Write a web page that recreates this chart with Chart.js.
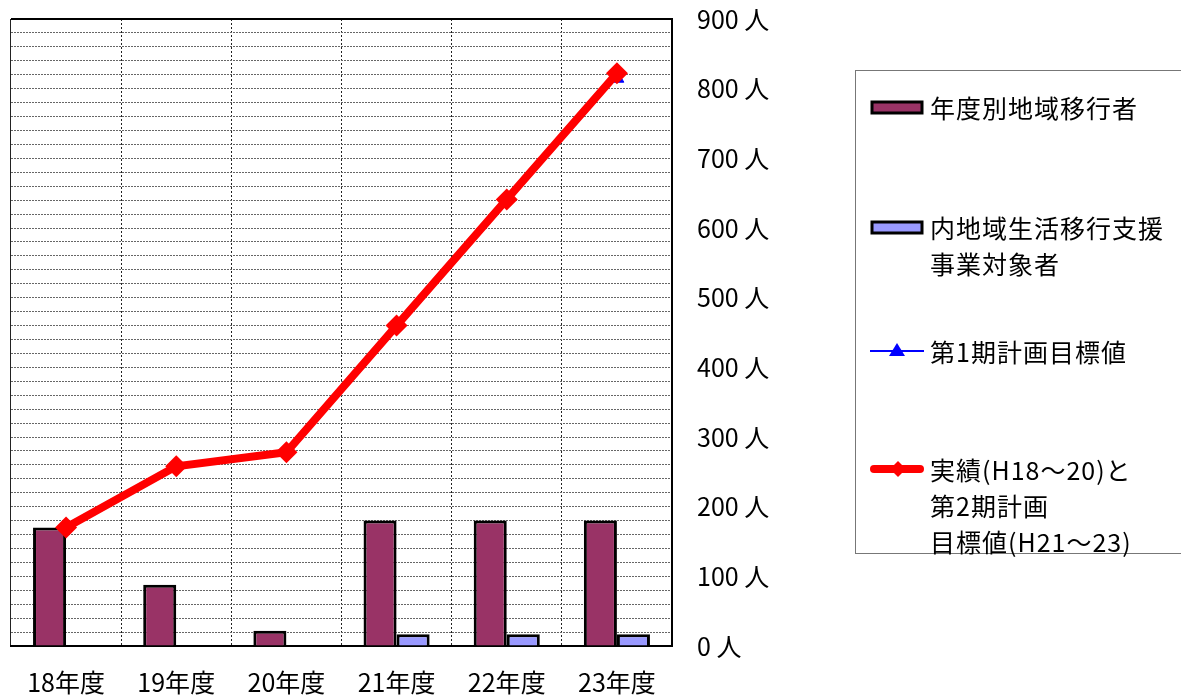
<!DOCTYPE html>
<html>
<head>
<meta charset="utf-8">
<script src="https://cdn.jsdelivr.net/npm/chart.js@4.4.0/dist/chart.umd.min.js"></script>
<style>
  html, body { margin:0; padding:0; background:#fff; }
  #wrap { position:relative; width:1181px; height:699px; }
  #legend { position:absolute; left:855px; top:70px; width:340px; height:484px;
    border:1px solid #777; box-sizing:border-box; font-family:"Noto Sans CJK JP", sans-serif;
    font-size:25px; color:#000; letter-spacing:1px; }
  .item { position:absolute; left:14px; display:flex; align-items:flex-start; }
  .item svg { flex:none; margin-right:4px; }
  .item div { line-height:36px; }
</style>
</head>
<body>
<div id="wrap">
  <canvas id="c" width="1181" height="699"></canvas>
  <div id="legend">
    <div class="item" style="top:18px"><svg width="56" height="36"><rect x="2" y="13" width="50" height="11" fill="#993366" stroke="#000" stroke-width="3"/></svg><div>年度別地域移行者</div></div>
    <div class="item" style="top:138px"><svg width="56" height="36"><rect x="2" y="13" width="50" height="11" fill="#9999FF" stroke="#000" stroke-width="3"/></svg><div>内地域生活移行支援<br>事業対象者</div></div>
    <div class="item" style="top:262px"><svg width="56" height="36"><line x1="0" y1="18" x2="54" y2="18" stroke="#0000FF" stroke-width="2"/><polygon points="27,10 35,23 19,23" fill="#0000FF"/></svg><div>第1期計画目標値</div></div>
    <div class="item" style="top:380px"><svg width="56" height="36"><line x1="4" y1="18" x2="50" y2="18" stroke="#FF0000" stroke-width="8" stroke-linecap="round"/><polygon points="28,10 36,18 28,26 20,18" fill="#FF0000"/></svg><div>実績(H18～20)と<br>第2期計画<br>目標値(H21～23)</div></div>
  </div>
</div>
<script>
const categories = ['18年度', '19年度', '20年度', '21年度', '22年度', '23年度'];
const transitionByYear = [170, 88, 22, 180, 180, 180];
const supportTargets = [null, null, null, 17, 17, 17];
const firstPlanTarget = [null, null, null, null, null, 815];
const actualAndSecondPlan = [170, 258, 278, 460, 641, 822];
const yTickStep = 20;
const yMax = 900;

const font = { family: '"Noto Sans CJK JP", sans-serif', size: 25 };

new Chart(document.getElementById('c'), {
  data: {
    labels: categories,
    datasets: [
      { type: 'line', label: '実績(H18～20)と第2期計画目標値(H21～23)', data: actualAndSecondPlan,
        borderColor: '#FF0000', backgroundColor: '#FF0000', borderWidth: 8,
        pointStyle: 'rectRot', pointRadius: 11, pointBorderWidth: 0, tension: 0, order: 0 },
      { type: 'line', label: '第1期計画目標値', data: firstPlanTarget,
        borderColor: '#0000FF', backgroundColor: '#0000FF', borderWidth: 1,
        pointStyle: 'triangle', pointRadius: 8, order: 1 },
      { type: 'bar', label: '年度別地域移行者', data: transitionByYear,
        backgroundColor: '#993366', borderColor: '#000', borderWidth: 3,
        categoryPercentage: 0.6, barPercentage: 1, order: 2 },
      { type: 'bar', label: '内地域生活移行支援事業対象者', data: supportTargets,
        backgroundColor: '#9999FF', borderColor: '#000', borderWidth: 3,
        categoryPercentage: 0.6, barPercentage: 1, order: 3 }
    ]
  },
  options: {
    responsive: false,
    animation: false,
    layout: { padding: { left: 10, top: 19, right: 401, bottom: 0 } },
    plugins: { legend: { display: false }, tooltip: { enabled: false } },
    scales: {
      x: {
        offset: true,
        grid: { offset: true, drawTicks: false, color: '#222', lineWidth: 1 },
        border: { display: true, color: '#000', width: 2,
          dash: ctx => ctx.index === 0 ? [] : [2, 2] },
        ticks: { font: font, color: '#000', padding: 21, maxRotation: 0 },
        afterFit: s => { s.height = 53; }
      },
      y: {
        position: 'right',
        min: 0, max: yMax,
        grid: { drawTicks: true, tickLength: 22, tickColor: 'rgba(0,0,0,0)',
          color: ctx => ctx.tick && ctx.tick.value === yMax ? '#000' : '#666',
          lineWidth: ctx => ctx.tick && ctx.tick.value === yMax ? 2 : 1 },
        border: { display: true, color: '#000', width: 2,
          dash: ctx => ctx.tick && ctx.tick.value === yMax ? [] : [2, 1] },
        ticks: { stepSize: yTickStep, autoSkip: false, font: font, color: '#000', padding: 3,
          callback: v => v % 100 === 0 ? v + ' 人' : '' },
        afterFit: s => { s.width = 108; }
      }
    }
  }
});
</script>
</body>
</html>
